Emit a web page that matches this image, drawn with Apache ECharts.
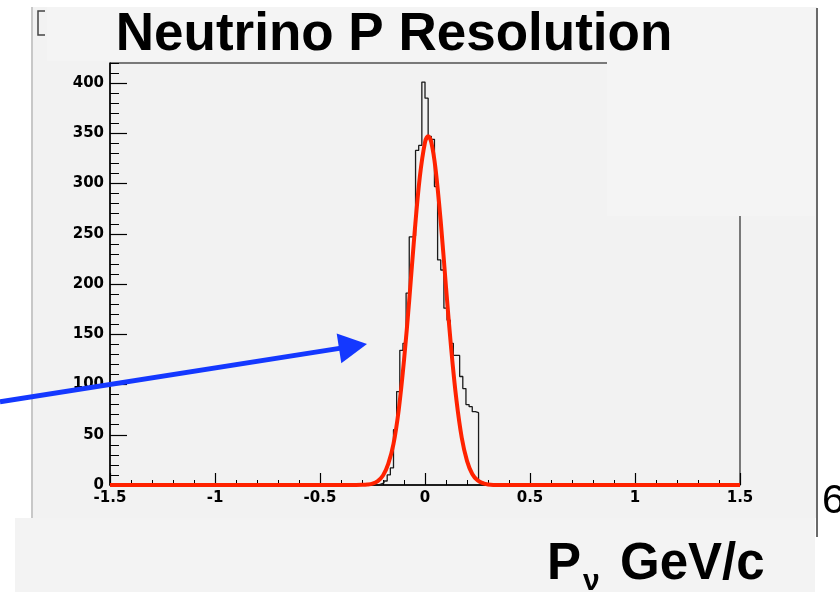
<!DOCTYPE html>
<html>
<head>
<meta charset="utf-8">
<script src="https://cdn.jsdelivr.net/npm/echarts@6/dist/echarts.min.js"></script>
<style>
  html, body { margin: 0; padding: 0; background: #ffffff; }
  #chart { width: 840px; height: 592px; }
</style>
</head>
<body>
<div id="chart"></div>
<script>
// Neutrino momentum resolution: histogram of residuals with a Gaussian fit
const binStart = -0.3;      // GeV/c, lower edge of first filled bin
const binWidth = 0.015;     // GeV/c
const binCounts = [
  0, 0, 0, 0, 0, 1, 2, 4, 10, 17, 55, 93, 134, 141, 191, 247, 248, 333, 338, 401,
  385, 347, 344, 297, 224, 214, 176, 164, 141, 129, 129, 108, 96, 80, 78, 73, 72, 3, 2, 1
];

// Fitted Gaussian curve, sampled along x
const fitX = [-1.5, -0.4, -0.35, -0.3, -0.275, -0.25, -0.225, -0.2, -0.175, -0.15, -0.125, -0.1,
  -0.075, -0.05, -0.025, 0, 0.015, 0.03, 0.05, 0.075, 0.1, 0.125, 0.15, 0.175, 0.2, 0.225,
  0.25, 0.275, 0.3, 0.35, 0.4, 1.5];
const fitY = [0, 0, 0, 0.2, 0.5, 1.4, 3.9, 9.4, 21, 41, 75, 124,
  184, 250, 306, 341, 347, 341, 315, 262, 197, 135, 84, 47, 24, 11,
  4.7, 1.8, 0.6, 0, 0, 0];

const xTicks = [-1.5, -1, -0.5, 0, 0.5, 1, 1.5];
const yTicks = [0, 50, 100, 150, 200, 250, 300, 350, 400];

const xMin = -1.5, xMax = 1.5, yMax = 420;

// Step outline of the histogram
const histData = [[xMin, 0]];
binCounts.forEach((c, i) => histData.push([binStart + i * binWidth, c]));
histData.push([binStart + binCounts.length * binWidth, 0]);
histData.push([xMax, 0]);

const fitData = fitX.map((x, i) => [x, fitY[i]]);

const yMinor = [];
for (let v = 0; v <= yMax; v += 10) yMinor.push(v);

const labelFont = { fontFamily: 'DejaVu Sans', fontWeight: 'bold', fontSize: 15, color: '#000' };

const chart = echarts.init(document.getElementById('chart'), null, { renderer: 'canvas' });

chart.setOption({
  backgroundColor: '#ffffff',
  animation: false,
  grid: {
    left: 110, right: 100, top: 63, bottom: 107,
    show: true, borderColor: '#000', borderWidth: 1, backgroundColor: 'transparent'
  },
  xAxis: {
    type: 'value', min: xMin, max: xMax, interval: 0.5,
    axisLine: { show: true, onZero: false, lineStyle: { color: '#000', width: 1.5 } },
    axisTick: { show: true, inside: true, length: 12, lineStyle: { color: '#000', width: 1.2 } },
    minorTick: { show: true, splitNumber: 5, length: 5, lineStyle: { color: '#000', width: 1 } },
    splitLine: { show: false },
    axisLabel: Object.assign({ margin: 6, customValues: xTicks }, labelFont)
  },
  yAxis: [
    {
      type: 'value', min: 0, max: yMax, interval: 50, position: 'left',
      axisLine: { show: true, onZero: false, lineStyle: { color: '#000', width: 1.5 } },
      axisTick: { show: true, inside: true, length: 17, customValues: yTicks, lineStyle: { color: '#000', width: 1.2 } },
      splitLine: { show: false },
      axisLabel: Object.assign({ margin: 6, customValues: yTicks }, labelFont)
    },
    {
      type: 'value', min: 0, max: yMax, interval: 10, position: 'left',
      axisLine: { show: false, onZero: false },
      axisTick: { show: true, inside: true, length: 9, customValues: yMinor, lineStyle: { color: '#000', width: 1 } },
      splitLine: { show: false },
      axisLabel: { show: false }
    }
  ],
  series: [
    {
      name: 'histogram', type: 'line', step: 'end', data: histData,
      symbol: 'none', z: 3,
      lineStyle: { color: '#1a1a1a', width: 1.3 }
    },
    {
      name: 'fit', type: 'line', data: fitData, smooth: 0.35,
      symbol: 'none', z: 4,
      lineStyle: { color: '#ff2200', width: 4 }
    }
  ],
  graphic: [
    // canvas panels
    { type: 'rect', z: -20, shape: { x: 32, y: 7, width: 785, height: 511 }, style: { fill: '#f2f2f2' } },
    { type: 'rect', z: -19, shape: { x: 47, y: 7, width: 560, height: 54 }, style: { fill: '#f4f4f4' } },
    { type: 'rect', z: 50, shape: { x: 607, y: 7, width: 208, height: 209 }, style: { fill: '#f4f4f4' } },
    { type: 'rect', z: -18, shape: { x: 15, y: 518, width: 800, height: 74 }, style: { fill: '#f3f3f3' } },
    { type: 'line', z: -17, shape: { x1: 32, y1: 7, x2: 32, y2: 518 }, style: { stroke: '#c8c8c8', lineWidth: 2 } },
    { type: 'line', z: 60, shape: { x1: 817, y1: 8, x2: 817, y2: 537 }, style: { stroke: '#6a6a6a', lineWidth: 2 } },
    { type: 'polyline', z: 60, shape: { points: [[45, 11], [38, 11], [38, 35], [45, 35]] }, style: { stroke: '#444', lineWidth: 1.5, fill: null } },
    // title
    { type: 'text', z: 60, x: 394, y: 35, style: {
        text: 'Neutrino P Resolution', fontFamily: 'Liberation Sans', fontWeight: 'bold', fontSize: 53,
        fill: '#000', align: 'center', verticalAlign: 'middle' } },
    // x-axis title
    { type: 'text', z: 60, x: 547, y: 565, style: {
        text: 'P', fontFamily: 'Liberation Sans', fontWeight: 'bold', fontSize: 51,
        fill: '#000', align: 'left', verticalAlign: 'middle' } },
    { type: 'text', z: 60, x: 583, y: 582, style: {
        text: 'ν', fontFamily: 'Liberation Sans', fontWeight: 'bold', fontSize: 30,
        fill: '#000', align: 'left', verticalAlign: 'middle' } },
    { type: 'text', z: 60, x: 620, y: 565, style: {
        text: 'GeV/c', fontFamily: 'Liberation Sans', fontWeight: 'bold', fontSize: 51,
        fill: '#000', align: 'left', verticalAlign: 'middle' } },
    { type: 'text', z: 60, x: 822, y: 502, style: {
        text: '6', fontFamily: 'Liberation Sans', fontSize: 41,
        fill: '#000', align: 'left', verticalAlign: 'middle' } },
    // annotation arrow
    { type: 'line', z: 70, shape: { x1: 0, y1: 401.7, x2: 341, y2: 348.1 }, style: { stroke: '#1438ff', lineWidth: 5 } },
    { type: 'polygon', z: 70, shape: { points: [[367, 344], [336.7, 333.6], [341.3, 363.2]] }, style: { fill: '#1438ff' } }
  ]
});
</script>
</body>
</html>
